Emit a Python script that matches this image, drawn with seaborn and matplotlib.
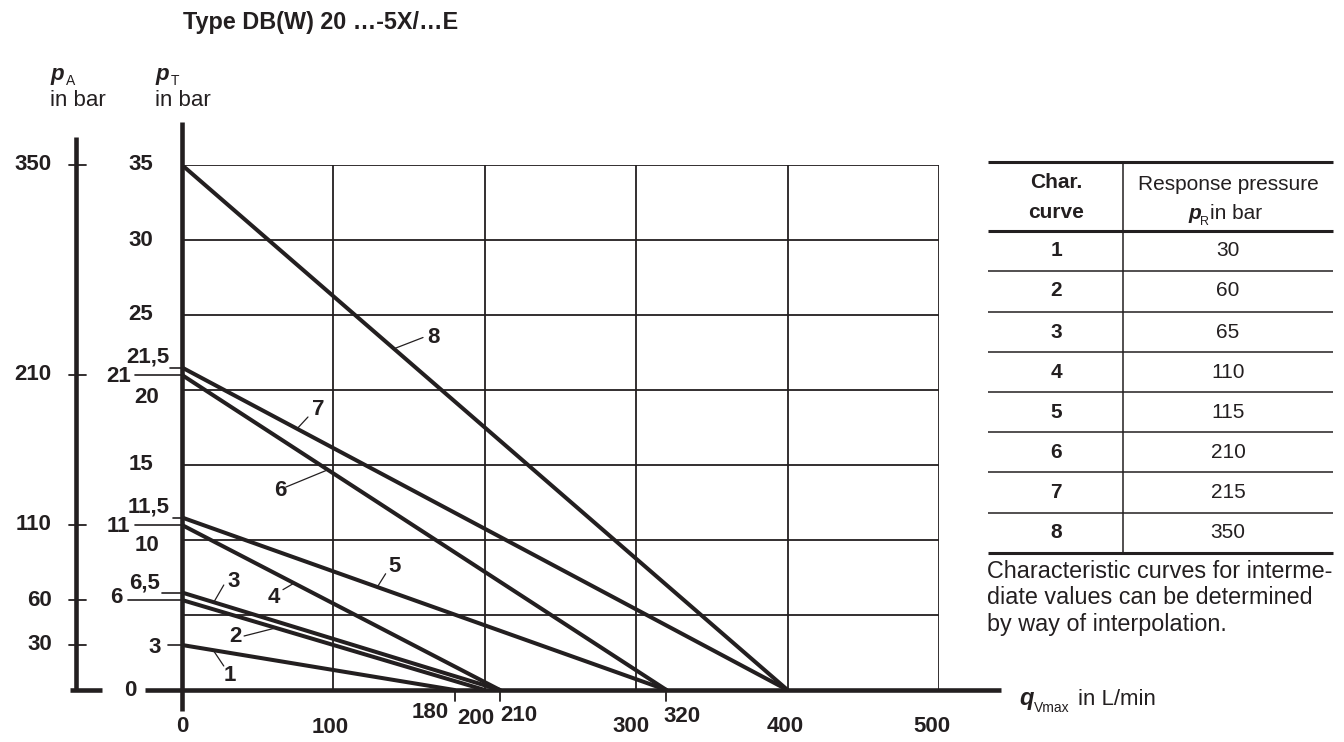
import numpy as np
import pandas as pd
import matplotlib
matplotlib.use('Agg')
import matplotlib.pyplot as plt
import seaborn as sns

# characteristic curves: pT at zero flow, flow where pT falls to 0
curve_ids = ['1', '2', '3', '4', '5', '6', '7', '8']
pt_at_zero_flow = [3, 6, 6.5, 11, 11.5, 21, 21.5, 35]
flow_at_zero_pt = [180, 200, 210, 210, 320, 320, 400, 400]
response_pressure = [30, 60, 65, 110, 115, 210, 215, 350]

pt_ticks = [35, 30, 25, 20, 15, 10, 0]
pt_marks = [21.5, 21, 11.5, 11, 6.5, 6, 3]
pt_mark_labels = ['21,5', '21', '11,5', '11', '6,5', '6', '3']
pa_ticks = [350, 210, 110, 60, 30]
q_grid = [100, 200, 300, 400, 500]
pt_grid = [5, 10, 15, 20, 25, 30, 35]
q_ticks = [0, 100, 180, 200, 210, 300, 320, 400, 500]
q_marked = [180, 210, 320]

sns.set_theme(style='white')
cond = ['Liberation Sans Narrow', 'Liberation Sans', 'DejaVu Sans']
helv = ['Liberation Sans', 'DejaVu Sans']
plt.rcParams['font.family'] = helv
ink = '#231f20'

rows = []
for cid, p0, q1 in zip(curve_ids, pt_at_zero_flow, flow_at_zero_pt):
    rows.append({'curve': cid, 'q': 0, 'p': p0})
    rows.append({'curve': cid, 'q': q1, 'p': 0})
df = pd.DataFrame(rows)

W, H = 1344, 742
fig = plt.figure(figsize=(W / 100, H / 100), dpi=100)
deco = fig.add_axes([0, 0, 1, 1], zorder=0)
deco.set_xlim(0, W)
deco.set_ylim(H, 0)
deco.set_axis_off()

ax = fig.add_axes([182 / W, 1 - 690 / H, 757 / W, 525 / H], zorder=1)
ax.set_xlim(0, 500)
ax.set_ylim(0, 35)
ax.set_axis_off()

# grid
ax.vlines(q_grid, 0, 35, color=ink, lw=1.3, zorder=1)
ax.hlines(pt_grid, 0, 500, color=ink, lw=1.3, zorder=1)

sns.lineplot(data=df, x='q', y='p', hue='curve', palette=[ink] * len(curve_ids),
             legend=False, estimator=None, sort=False, lw=2.9, ax=ax, zorder=3)
ax.set_xlim(0, 500)
ax.set_ylim(0, 35)

# axes lines
ax.plot([0, 0], [-1.4, 37.9], color=ink, lw=3.3, clip_on=False, zorder=4, solid_capstyle='butt')
ax.plot([-24.6, 541], [0, 0], color=ink, lw=3.3, clip_on=False, zorder=4, solid_capstyle='butt')
ax.plot([-70, -70], [0, 36.9], color=ink, lw=3.3, clip_on=False, zorder=4, solid_capstyle='butt')
ax.plot([-74.2, -52.7], [0, 0], color=ink, lw=3.3, clip_on=False, zorder=4, solid_capstyle='butt')

tk = dict(fontfamily=cond, fontweight='bold', fontsize=16, color=ink, clip_on=False)

# pA scale
for v in pa_ticks:
    ax.plot([-74.6, -63.4], [v / 10, v / 10], color=ink, lw=1.3, clip_on=False)
    ax.text(-86, v / 10, str(v), ha='right', va='center', **tk)

# pT scale
pt_label_x = {35: -19, 30: -19, 25: -19, 20: -15, 15: -19, 10: -15, 0: -30}
pt_label_dy = {20: -0.5, 10: -0.35}
for v in pt_ticks:
    ax.text(pt_label_x[v], v + pt_label_dy.get(v, 0), str(v), ha='right', va='center', **tk)

mark_pos = {21.5: (-22.5, 22.2, -8), 21: (-42, 20.87, -31), 11.5: (-21.8, 12.2, -6),
            11: (-42, 10.87, -31), 6.5: (-24.6, 7.13, -12.9), 6: (-43.3, 6.14, -35.6),
            3: (-18, 2.83, -9.4)}
for v, lab in zip(pt_marks, pt_mark_labels):
    tx, ty, lx = mark_pos[v]
    ax.plot([lx, 0], [v, v], color=ink, lw=1.2, clip_on=False)
    ax.text(tx, ty, lab, ha='center', va='center', **tk)

# flow scale
q_label_pos = {0: (0, -2.45, 'center'), 100: (98, -2.5, 'center'), 180: (176, -1.5, 'right'),
               200: (194, -1.9, 'center'), 210: (210, -1.72, 'left'), 300: (296.5, -2.45, 'center'),
               320: (318, -1.75, 'left'), 400: (398.6, -2.45, 'center'), 500: (495.4, -2.45, 'center')}
for v in q_ticks:
    x, y, ha = q_label_pos[v]
    ax.text(x, y, str(v), ha=ha, va='center', **tk)
for v in q_marked:
    ax.plot([v, v], [0, -0.7], color=ink, lw=1.3, clip_on=False)

# curve labels with leader lines
leaders = {'1': (20.6, (27.6, 1.6), (31.6, 0.95)),
           '2': (62, (41, 3.6), (35.1, 3.6)),
           '3': (21, (27.6, 7.0), (34, 7.24)),
           '4': (74, (66.7, 6.69), (60.4, 6.14)),
           '5': (129, (134.5, 7.75), (140.5, 8.2)),
           '6': (96.3, (68.6, 13.53), (64.7, 13.33)),
           '7': (76, (83.2, 18.2), (89.8, 18.67)),
           '8': (140, (159.2, 23.5), (166.4, 23.5))}
for cid, p0, q1 in zip(curve_ids, pt_at_zero_flow, flow_at_zero_pt):
    qs, (ex, ey), (tx, ty) = leaders[cid]
    ys = np.interp(qs, [0, q1], [p0, 0])
    ax.plot([qs, ex], [ys, ey], color=ink, lw=0.9, zorder=3)
    ax.text(tx, ty, cid, ha='center', va='center', **tk)

# headings
deco.text(183, 22, 'Type DB(W) 20 …-5X/…E', ha='left', va='center', fontsize=16.8,
          fontweight='bold', color=ink)
for x0, sub in [(50, 'A'), (155, 'T')]:
    deco.text(x0, 80, 'p', ha='left', va='baseline', fontsize=16, fontweight='bold',
              fontstyle='italic', color=ink)
    deco.text(x0 + 16, 85, sub, ha='left', va='baseline', fontsize=10, color=ink)
    deco.text(x0, 106, 'in bar', ha='left', va='baseline', fontsize=16, color=ink)

deco.text(1019, 705, 'q', ha='left', va='baseline', fontsize=17, fontweight='bold',
          fontstyle='italic', color=ink)
deco.text(1034, 712, 'Vmax', ha='left', va='baseline', fontsize=10, color=ink)
deco.text(1078, 705, 'in L/min', ha='left', va='baseline', fontsize=16, color=ink)

# table of response pressures
tl, tr, tdiv = 988, 1333, 1123
row_lines = [271, 312, 352, 392, 432, 472, 513]
deco.hlines([162, 231, 553], tl, tr, color=ink, lw=2.2)
deco.hlines(row_lines, tl, tr, color=ink, lw=1.1)
deco.vlines(tdiv, 162, 553, color=ink, lw=1.1)
deco.text(1056, 183, 'Char.', ha='center', va='center', fontsize=15, fontweight='bold', color=ink)
deco.text(1056, 213, 'curve', ha='center', va='center', fontsize=15, fontweight='bold', color=ink)
deco.text(1228, 184, 'Response pressure', ha='center', va='center', fontsize=15,
          fontfamily=cond, color=ink)
deco.text(1188, 219, 'p', ha='left', va='baseline', fontsize=15, fontweight='bold',
          fontstyle='italic', color=ink)
deco.text(1200, 225, 'R', ha='left', va='baseline', fontsize=9, color=ink)
deco.text(1210, 219, 'in bar', ha='left', va='baseline', fontsize=15, fontfamily=cond, color=ink)
row_mid = [251, 291, 332, 372, 412, 452, 492, 533]
for y, cid, pr in zip(row_mid, curve_ids, response_pressure):
    deco.text(1056, y, cid, ha='center', va='center', fontsize=15, fontweight='bold', color=ink)
    deco.text(1228, y, str(pr), ha='center', va='center', fontsize=15, color=ink)

note_lines = ['Characteristic curves for interme-', 'diate values can be determined',
              'by way of interpolation.']
for y, line in zip([572, 598, 624], note_lines):
    deco.text(987, y, line, ha='left', va='center', fontsize=16.8, color=ink)

plt.savefig('out.png', dpi=100)
